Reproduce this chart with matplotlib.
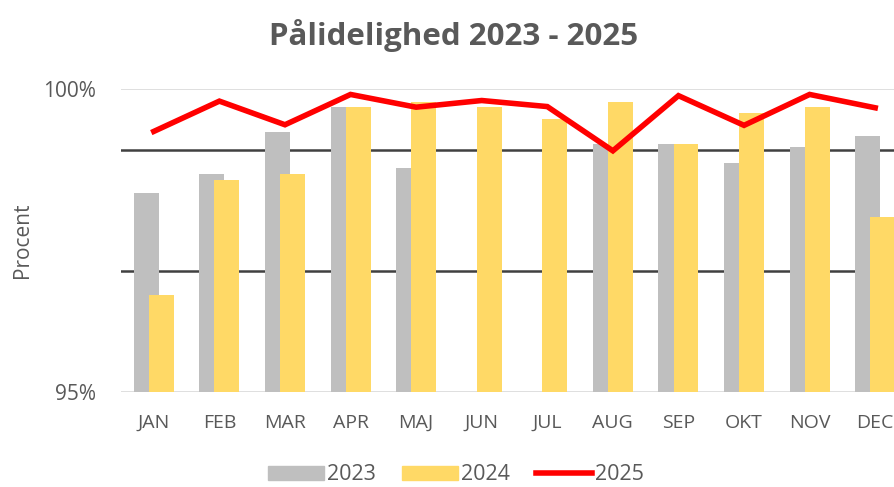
import numpy as np
import matplotlib.pyplot as plt
from matplotlib.lines import Line2D
from matplotlib.patches import Patch

months = ["JAN", "FEB", "MAR", "APR", "MAJ", "JUN", "JUL", "AUG", "SEP", "OKT", "NOV", "DEC"]
y2023 = [98.28, 98.60, 99.29, 99.70, 98.70, np.nan, np.nan, 99.10, 99.09, 98.78, 99.04, 99.22]
y2024 = [96.60, 98.50, 98.60, 99.70, 99.78, 99.70, 99.50, 99.78, 99.10, 99.60, 99.70, 97.89]
y2025 = [99.30, 99.80, 99.41, 99.91, 99.70, 99.81, 99.71, 98.98, 99.89, 99.40, 99.91, 99.69]
ref_lines = [97, 99]

plt.rcParams['font.family'] = ['Open Sans', 'DejaVu Sans']
txt = '#595959'

fig = plt.figure(figsize=(8.94, 4.87), dpi=100)
ax = fig.add_axes([121 / 894, 1 - 392 / 487, 787 / 894, 303 / 487])

x = np.arange(len(months))
ax.bar(x - 0.115, y2023, width=0.38, color='#bfbfbf', zorder=2)
ax.bar(x + 0.115, y2024, width=0.38, color='#ffd966', zorder=3)
ax.plot(x, y2025, color='#ff0000', lw=4, zorder=4, solid_joinstyle='miter')

for v in ref_lines:
    ax.axhline(v, color='#404040', lw=1.8, zorder=1)
for v in [95, 100]:
    ax.axhline(v, color='#d9d9d9', lw=1.2, zorder=1)

ax.set_ylim(95, 100)
ax.set_xlim(-0.5, 11.5)
ax.set_yticks([95, 100])
ax.set_yticklabels(['95%', '100%'], color=txt, fontsize=15)
ax.set_xticks(x)
ax.set_xticklabels(months, color=txt, fontsize=14)
ax.tick_params(length=0, pad=16)
ax.tick_params(axis='y', pad=18)
for s in ax.spines.values():
    s.set_visible(False)

ax.set_ylabel('Procent', color=txt, fontsize=15)
ax.yaxis.set_label_coords(-0.112, 0.5)
fig.text(0.507, 0.928, 'Pålidelighed 2023 - 2025', ha='center', va='center',
         fontsize=22.5, fontweight='bold', color=txt)

handles = [Patch(color='#bfbfbf', label='2023'),
           Patch(color='#ffd966', label='2024'),
           Line2D([], [], color='#ff0000', lw=4, label='2025')]
fig.legend(handles=handles, loc='center', bbox_to_anchor=(0.51, 0.025), ncol=3,
           frameon=False, fontsize=15.5, labelcolor=txt, handlelength=2.6,
           handleheight=0.6, handletextpad=0.15, columnspacing=1.2)

fig.savefig('out.png', dpi=100)
